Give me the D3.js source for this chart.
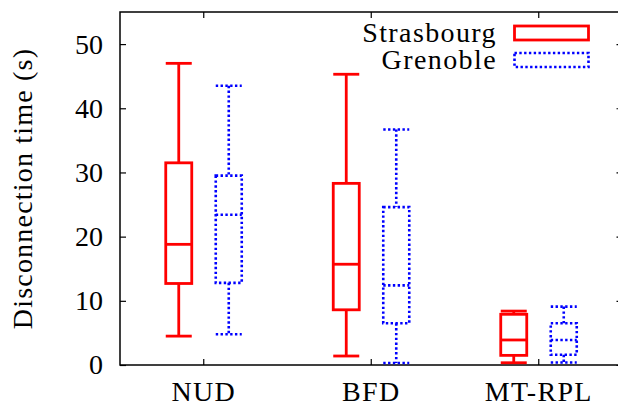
<!DOCTYPE html>
<html>
<head>
<meta charset="utf-8">
<script src="https://cdn.jsdelivr.net/npm/d3@7"></script>
<style>
  html, body { margin: 0; padding: 0; background: #fff; }
  svg { display: block; }
  svg text { font-family: "Liberation Serif", "Times New Roman", Times, "DejaVu Serif", serif; }
</style>
</head>
<body>
<section></section>
<script>

// data

const categories = ['NUD', 'BFD', 'MT-RPL'];
const series = ['Strasbourg', 'Grenoble'];

const strasMin = [4.5, 1.4, 0.35];
const strasQ1 = [12.7, 8.6, 1.5];
const strasMed = [18.8, 15.7, 3.9];
const strasQ3 = [31.5, 28.3, 7.9];
const strasMax = [47.0, 45.3, 8.4];

const grenMin = [4.8, 0.3, 0.4];
const grenQ1 = [12.8, 6.5, 1.6];
const grenMed = [23.4, 12.4, 3.9];
const grenQ3 = [29.5, 24.6, 6.5];
const grenMax = [43.5, 36.7, 9.1];

const yTicks = [0, 10, 20, 30, 40, 50];


const w = 618;
const h = 407;
const mLeft = 120, mRight = 622.5, mTop = 12, mBottom = 365;

const colors = { Strasbourg: '#ff0000', Grenoble: '#0000ff' };
const dashes = { Strasbourg: null, Grenoble: '2.4,2.4' };

const rows = [];
categories.forEach((c, i) => {
    rows.push({ cat: c, s: 'Strasbourg', min: strasMin[i], q1: strasQ1[i], med: strasMed[i], q3: strasQ3[i], max: strasMax[i] });
    rows.push({ cat: c, s: 'Grenoble', min: grenMin[i], q1: grenQ1[i], med: grenMed[i], q3: grenQ3[i], max: grenMax[i] });
});

const svg = d3.select('section').append('svg').attr('width', w).attr('height', h);

// scales

const xScale = d3.scaleBand().domain(categories).range([mLeft, mRight]);
const xSub = d3.scalePoint().domain(series).range([-25, 25]);
const yScale = d3.scaleLinear().domain([0, 55]).range([mBottom, mTop]);

const cx = d => xScale(d.cat) + xScale.bandwidth() / 2 + xSub(d.s);
const bw = 26;

// axes (ticks inside, mirrored)

const yAxis = d3.axisLeft(yScale).tickValues(yTicks).tickSize(-6).tickPadding(17);
svg.append('g').attr('transform', `translate(${mLeft},0)`).call(yAxis)
    .attr('font-family', null)
    .call(g => g.select('.domain').remove())
    .call(g => g.selectAll('text').attr('font-size', 28).attr('fill', '#000'));

svg.append('g').attr('transform', `translate(${mRight},0)`)
    .call(d3.axisRight(yScale).tickValues(yTicks).tickSize(-6).tickFormat(''))
    .call(g => g.select('.domain').remove());

const xAxis = d3.axisBottom(xScale).tickSize(-6).tickPadding(16);
svg.append('g').attr('transform', `translate(0,${mBottom})`).call(xAxis)
    .attr('font-family', null)
    .call(g => g.select('.domain').remove())
    .call(g => g.selectAll('text').attr('font-size', 28).attr('fill', '#000').style('letter-spacing', '1.3px'));

svg.append('g').attr('transform', `translate(0,${mTop})`)
    .call(d3.axisTop(xScale).tickSize(-6).tickFormat(''))
    .call(g => g.select('.domain').remove());

svg.selectAll('.tick line').attr('stroke', '#000').attr('stroke-width', 1.2);

svg.append('rect').attr('x', mLeft).attr('y', mTop).attr('width', mRight - mLeft).attr('height', mBottom - mTop)
    .attr('fill', 'none').attr('stroke', '#000').attr('stroke-width', 1.5);

// y label

svg.append('text')
    .attr('transform', `translate(32,${(mTop + mBottom) / 2}) rotate(-90)`)
    .attr('text-anchor', 'middle')
    .attr('font-size', 28)
    .style('letter-spacing', '1.2px')
    .text('Disconnection time (s)');

// boxes

const boxes = svg.append('g').selectAll('g').data(rows).enter().append('g')
    .attr('fill', 'none')
    .attr('stroke', d => colors[d.s])
    .attr('stroke-width', d => d.s === 'Strasbourg' ? 2.8 : 2.6)
    .attr('stroke-dasharray', d => dashes[d.s]);

// whiskers
boxes.append('line').attr('x1', cx).attr('x2', cx).attr('y1', d => yScale(d.max)).attr('y2', d => yScale(d.q3));
boxes.append('line').attr('x1', cx).attr('x2', cx).attr('y1', d => yScale(d.q1)).attr('y2', d => yScale(d.min));
// caps
boxes.append('line').attr('x1', d => cx(d) - bw / 2).attr('x2', d => cx(d) + bw / 2).attr('y1', d => yScale(d.max)).attr('y2', d => yScale(d.max));
boxes.append('line').attr('x1', d => cx(d) - bw / 2).attr('x2', d => cx(d) + bw / 2).attr('y1', d => yScale(d.min)).attr('y2', d => yScale(d.min));
// box
boxes.append('rect').attr('x', d => cx(d) - bw / 2).attr('width', bw)
    .attr('y', d => yScale(d.q3)).attr('height', d => yScale(d.q1) - yScale(d.q3));
// median
boxes.append('line').attr('x1', d => cx(d) - bw / 2).attr('x2', d => cx(d) + bw / 2).attr('y1', d => yScale(d.med)).attr('y2', d => yScale(d.med));

// legend

const legend = svg.append('g').selectAll('g').data(series).enter().append('g')
    .attr('transform', (d, i) => `translate(0,${i * 27})`);

legend.append('text').attr('x', 497).attr('y', 42).attr('text-anchor', 'end')
    .attr('font-size', 28).style('letter-spacing', '1.4px').text(d => d);

legend.append('rect').attr('x', 514.5).attr('y', 26).attr('width', 74).attr('height', 14)
    .attr('fill', 'none')
    .attr('stroke', d => colors[d])
    .attr('stroke-width', d => d === 'Strasbourg' ? 2.8 : 2.6)
    .attr('stroke-dasharray', d => dashes[d]);

</script>
</body>
</html>
